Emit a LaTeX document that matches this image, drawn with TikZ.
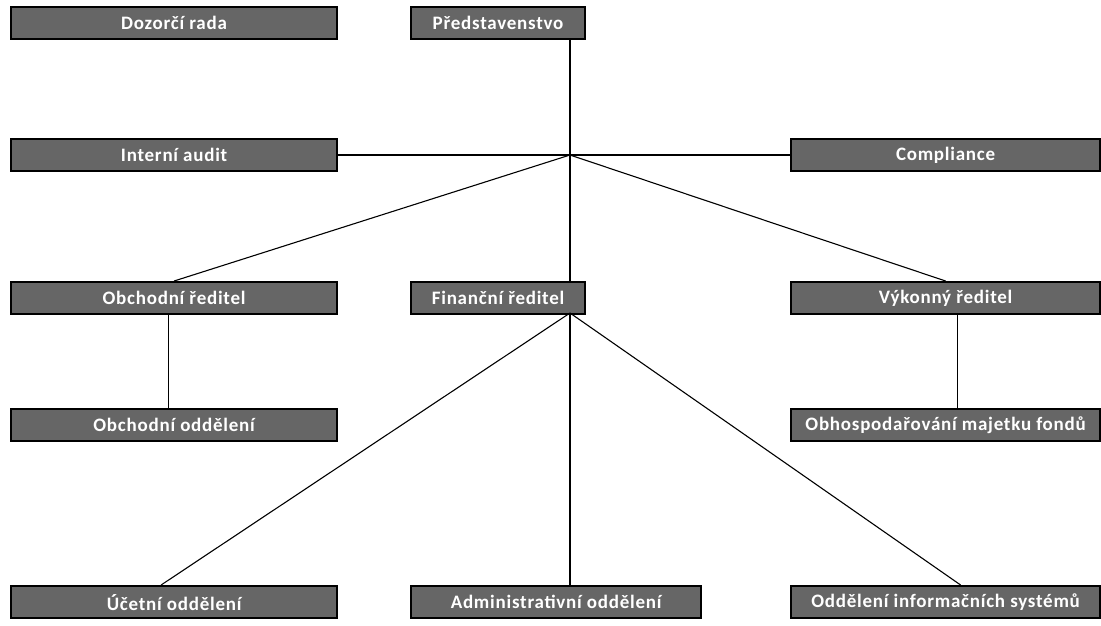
\documentclass[tikz,border=0pt]{standalone}
\usepackage{fontspec}
\setmainfont{Carlito}[LetterSpace=4]
\begin{document}
\begin{tikzpicture}[x=1pt,y=-1pt,
  box/.style={draw=black,line width=2.2pt,fill=black!60,text=white,font=\bfseries\fontsize{19}{21}\selectfont,
    minimum height=32pt,inner sep=0pt,anchor=north west},
  conn/.style={draw=black,line width=1.1pt}]
\useasboundingbox (0,0) rectangle (1101,625);
\node[box,minimum width=326pt] (dr) at (10,6) {Dozorčí rada};
\node[box,minimum width=174pt] (pr) at (410,6) {Představenstvo};
\node[box,minimum width=326pt] (ia) at (10,138) {Interní audit};
\node[box,minimum width=309pt] (co) at (790,138) {Compliance};
\node[box,minimum width=326pt] (or) at (10,281) {Obchodní ředitel};
\node[box,minimum width=174pt] (fr) at (410,281) {Finanční ředitel};
\node[box,minimum width=309pt] (vr) at (790,281) {Výkonný ředitel};
\node[box,minimum width=326pt] (oo) at (10,408) {Obchodní oddělení};
\node[box,minimum width=309pt] (om) at (790,408) {Obhospodařování majetku fondů};
\node[box,minimum width=326pt] (uo) at (10,585) {Účetní oddělení};
\node[box,minimum width=290pt] (ao) at (410,585) {Administrativní oddělení};
\node[box,minimum width=309pt] (oi) at (790,585) {Oddělení informačních systémů};
\coordinate (J) at (570,155);
\coordinate (F) at (570,313);
\draw[conn] (J) -- (J |- pr.south);
\draw[conn] (J) -- (ia.east |- J);
\draw[conn] (J) -- (co.west |- J);
\draw[conn] (J) -- (or.north);
\draw[conn] (J) -- (J |- fr.north);
\draw[conn] (J) -- (vr.north);
\draw[conn] ([xshift=-6pt]or.south) -- ([xshift=-6pt]oo.north);
\draw[conn] ([xshift=12pt]vr.south) -- ([xshift=12pt]om.north);
\draw[conn] (F) -- ([xshift=-13pt]uo.north);
\draw[conn] (F) -- (F |- ao.north);
\draw[conn] (F) -- ([xshift=15pt]oi.north);
\end{tikzpicture}
\end{document}
